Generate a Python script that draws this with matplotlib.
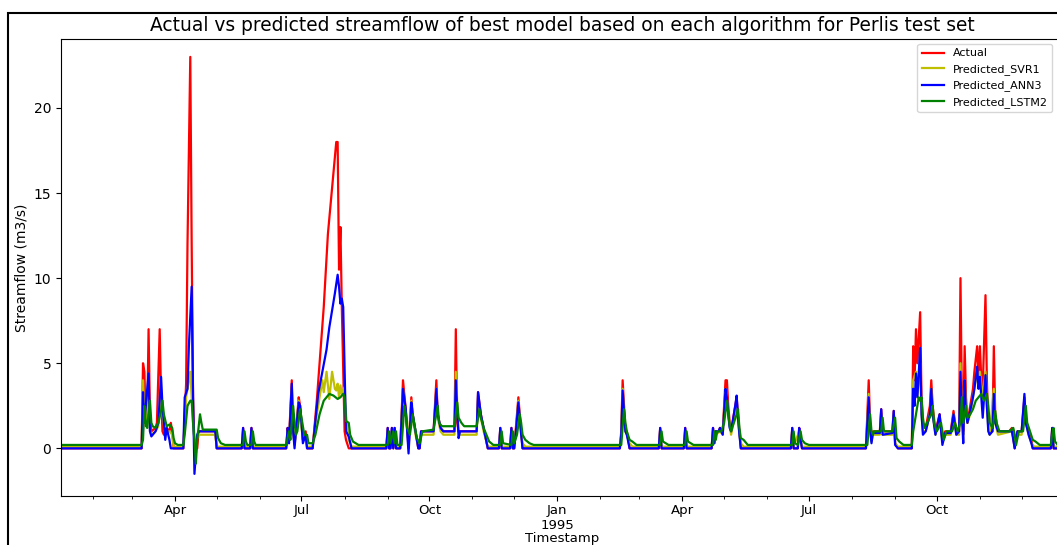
import numpy as np
import pandas as pd
import matplotlib
matplotlib.use('Agg')
import matplotlib.pyplot as plt
import matplotlib.dates as mdates
from matplotlib.patches import Rectangle

# daily streamflow, Perlis test set; day numbers counted from 1994-01-01
start = pd.Timestamp('1994-01-01')

act_day = [8, 66, 67, 68, 69, 70, 71, 72, 73, 76, 77, 79, 80, 81, 82, 84, 86, 87, 88, 89,
           96, 98, 99, 101, 102, 103, 104, 106, 107, 119, 120,
           138, 139, 140, 144, 145, 146,
           170, 171, 172, 174, 175, 176, 177, 179, 180, 182, 184, 185, 189,
           192, 197, 200, 204, 206, 207, 208, 209, 210, 212, 213, 215,
           242, 243, 244, 245, 246, 247, 248, 249, 252, 254, 256, 258, 260, 261, 263, 265, 266,
           267, 276, 278, 279, 281, 283, 291, 292, 293, 294, 307, 308, 310, 312, 315,
           323, 324, 325, 331, 332, 333, 334, 335, 337, 338, 339, 340,
           410, 411, 412, 413, 414, 415, 417,
           438, 439, 440, 456, 457, 458,
           476, 477, 478, 479, 481, 482, 484, 486, 487, 488, 489, 490, 491, 493, 494, 495, 496, 497,
           533, 534, 535, 538, 539, 540, 541,
           587, 589, 590, 591, 592, 597, 598, 599, 606, 607, 608, 610, 620, 621, 622, 623, 624,
           626, 627, 628, 630, 633, 634, 635, 637, 640, 642, 644, 648, 650, 652, 654, 655, 656,
           657, 658, 659, 660, 662, 664, 665, 667, 668, 669, 670, 671, 673, 674, 675, 676, 678,
           679, 680, 682, 690, 692, 694, 696, 699, 701, 702, 704, 706, 707, 720, 721, 722, 729]
act_val = [0, 0, 5.0, 4.5, 1.3, 1.5, 7.0, 2.0, 1.0, 1.2, 1.5, 7.0, 3.0, 1.0, 0.8, 1.2, 1.0, 1.5, 1.0, 0,
           0, 3.8, 12.0, 23.0, 12.0, 3.0, 0, 0, 1.0, 1.0, 0,
           0, 1.2, 0, 0, 1.2, 0,
           0, 1.2, 0.5, 4.0, 1.0, 0.3, 1.0, 3.0, 2.5, 0.5, 1.0, 0, 0,
           2.8, 8.3, 12.6, 16.2, 18.0, 18.0, 10.5, 13.0, 8.3, 1.0, 0.5, 0,
           0, 1.2, 0, 0, 1.2, 0, 1.2, 0, 0, 4.0, 2.3, 0, 3.0, 2.0, 1.0, 0, 0,
           1.0, 1.0, 4.0, 2.0, 1.2, 1.0, 1.0, 7.0, 1.5, 1.0, 1.0, 3.3, 2.0, 1.2, 0,
           0, 1.2, 0, 0, 1.2, 0, 0, 1.0, 3.0, 2.0, 1.0, 0,
           0, 1.0, 4.0, 2.5, 1.0, 1.0, 0,
           0, 1.2, 0, 0, 1.2, 0,
           0, 1.2, 0.5, 1.0, 1.0, 1.2, 1.0, 4.0, 4.0, 2.5, 1.5, 1.0, 1.5, 2.5, 3.0, 2.0, 1.0, 0,
           0, 1.2, 0, 0, 1.2, 0.5, 0,
           0, 4.0, 1.5, 0.5, 1.0, 1.0, 2.3, 1.0, 1.0, 2.2, 0.3, 0, 0, 6.0, 4.0, 7.0, 5.0,
           8.0, 3.0, 1.5, 1.2, 2.5, 4.0, 2.5, 1.0, 2.0, 0.5, 1.0, 1.0, 2.2, 1.0, 1.0, 10.0, 3.0,
           1.0, 6.0, 3.0, 1.5, 2.5, 3.5, 4.5, 6.0, 4.0, 6.0, 4.0, 3.5, 9.0, 4.0, 1.5, 1.0, 1.0,
           6.0, 2.0, 1.0, 1.0, 1.2, 0, 1.0, 1.0, 3.0, 1.5, 1.0, 0.5, 0, 0, 1.2, 0, 0]

svr_day = [8, 66, 67, 68, 69, 71, 72, 73, 76, 78, 80, 81, 83, 84, 86, 88, 89,
           96, 98, 99, 101, 102, 103, 104, 106, 107, 119, 120,
           138, 139, 140, 144, 145, 146,
           170, 171, 172, 174, 175, 176, 177, 179, 180, 182, 184, 185, 189,
           191, 194, 196, 197, 199, 201, 203, 205, 206, 207, 208, 209, 210, 212, 213, 215, 217,
           242, 243, 244, 246, 247, 248, 249, 252, 254, 256, 258, 260, 261, 263, 265,
           267, 276, 278, 279, 281, 283, 291, 292, 294, 295, 307, 308, 310, 312, 315,
           323, 324, 325, 331, 332, 333, 335, 337, 338, 339, 340, 342,
           410, 411, 412, 413, 414, 415, 417, 419,
           438, 439, 440, 456, 457, 458,
           476, 477, 478, 479, 482, 484, 486, 487, 488, 490, 491, 494, 495, 496, 497, 499,
           533, 534, 535, 539, 540, 541,
           587, 589, 590, 591, 592, 597, 598, 599, 606, 607, 608, 610, 620, 621, 623, 624,
           626, 627, 628, 630, 633, 634, 635, 637, 640, 642, 644, 648, 650, 652, 654, 655, 656,
           657, 658, 659, 660, 662, 664, 665, 667, 668, 669, 671, 673, 674, 675, 676,
           679, 680, 682, 692, 694, 696, 699, 701, 702, 704, 706, 708, 720, 721, 722, 729]
svr_val = [0.1, 0.1, 4.0, 2.0, 1.5, 3.0, 1.0, 0.8, 1.0, 1.3, 3.5, 2.0, 0.8, 1.0, 1.0, 0.8, 0.1,
           0.1, 3.0, 3.5, 4.5, 3.0, 1.5, 0.3, 0.6, 0.8, 0.8, 0.1,
           0.1, 1.0, 0.1, 0.1, 1.0, 0.1,
           0.1, 1.0, 0.3, 3.5, 1.0, 0.2, 0.8, 2.8, 2.0, 0.5, 0.8, 0.1, 0.1,
           1.5, 3.0, 4.0, 3.3, 4.5, 2.9, 4.5, 3.5, 3.4, 3.8, 3.0, 3.7, 3.2, 3.6, 2.0, 0.5, 0.1,
           0.1, 1.0, 0.1, 1.0, 0.1, 1.0, 0.1, 0.1, 3.5, 2.0, 0.3, 2.8, 1.8, 0.8, 0.1,
           0.8, 0.8, 3.5, 1.8, 1.0, 0.8, 0.8, 4.5, 1.0, 0.8, 0.8, 3.0, 1.8, 1.0, 0.1,
           0.1, 1.0, 0.1, 0.1, 1.0, 0.1, 0.8, 2.8, 1.8, 0.8, 0.3, 0.1,
           0.1, 0.8, 3.5, 2.0, 1.0, 0.8, 0.3, 0.1,
           0.1, 1.0, 0.1, 0.1, 1.0, 0.1,
           0.1, 1.0, 0.3, 0.8, 1.0, 0.8, 3.5, 3.0, 2.0, 0.8, 1.2, 2.8, 1.6, 0.8, 0.3, 0.1,
           0.1, 1.0, 0.1, 1.0, 0.4, 0.1,
           0.1, 3.2, 1.0, 0.4, 0.8, 0.8, 2.0, 0.8, 0.8, 2.0, 0.3, 0.1, 0.1, 4.0, 4.5, 3.0,
           5.0, 2.0, 1.0, 1.0, 2.0, 3.5, 2.0, 0.8, 1.8, 0.4, 0.8, 0.8, 2.0, 0.8, 0.8, 5.0, 2.0,
           0.8, 4.0, 2.5, 1.5, 2.0, 3.0, 3.5, 4.5, 3.5, 4.5, 3.0, 4.5, 2.5, 1.2, 0.8,
           3.5, 1.5, 0.8, 1.0, 0.2, 0.8, 0.8, 2.8, 1.5, 0.8, 0.3, 0.1, 0.1, 1.0, 0.1, 0.1]

ann_day = [8, 66, 67, 68, 69, 71, 72, 73, 76, 78, 80, 81, 83, 84, 86, 87,
           96, 97, 99, 100, 102, 103, 104, 106, 107, 119, 120,
           138, 139, 140, 144, 145, 146,
           170, 171, 172, 174, 175, 176, 177, 179, 180, 181, 182, 184, 185, 189,
           193, 199, 201, 205, 207, 208, 209, 210, 211, 213, 215, 217,
           242, 243, 244, 245, 246, 247, 248, 249, 252, 254, 256, 258, 260, 261, 263, 265, 266,
           267, 276, 278, 279, 281, 283, 291, 292, 294, 295, 307, 308, 310, 312, 315,
           323, 324, 325, 331, 332, 333, 334, 335, 337, 338, 339, 340,
           410, 411, 412, 413, 414, 415, 417,
           438, 439, 440, 456, 457, 458,
           476, 477, 478, 479, 481, 482, 484, 486, 487, 488, 489, 490, 491, 493, 494, 495, 496, 497,
           533, 534, 535, 538, 539, 540, 541,
           587, 589, 590, 591, 592, 597, 598, 599, 606, 607, 608, 610, 620, 621, 622, 623, 624,
           626, 627, 628, 630, 633, 634, 635, 637, 640, 642, 644, 648, 650, 652, 654, 655, 656,
           657, 658, 659, 660, 662, 664, 665, 667, 668, 669, 671, 673, 674, 675, 676, 678,
           679, 680, 682, 690, 692, 694, 696, 699, 701, 702, 704, 706, 707, 720, 721, 722, 729]
ann_val = [0, 0, 3.3, 1.5, 2.5, 4.4, 1.0, 0.7, 1.0, 1.5, 4.2, 2.5, 0.5, 1.2, 0.5, 0,
           0, 3.0, 3.5, 6.0, 9.5, 3.0, -1.5, 0.8, 1.0, 1.0, 0,
           0, 1.2, 0, 0, 1.2, 0,
           0, 1.2, 0.3, 3.8, 1.0, 0, 1.0, 2.7, 2.5, 1.5, 0.3, 0.8, 0, 0,
           3.2, 5.8, 7.1, 9.1, 10.2, 9.5, 8.5, 8.8, 8.3, 1.0, 0.7, 0,
           0, 1.2, 0, 0, 1.2, 0, 1.2, 0, 0, 3.5, 2.3, -0.3, 2.7, 2.0, 1.0, 0, 0,
           1.0, 1.0, 3.5, 2.0, 1.2, 1.0, 1.0, 4.0, 0.6, 1.0, 1.0, 3.3, 2.0, 1.2, 0,
           0, 1.2, 0, 0, 1.2, 0, 0, 0.8, 2.7, 1.8, 0.8, 0,
           0, 0.8, 3.4, 2.2, 1.0, 0.8, 0,
           0, 1.2, 0, 0, 1.2, 0,
           0, 1.2, 0.3, 1.0, 1.0, 1.2, 0.8, 3.5, 3.0, 2.0, 1.2, 1.0, 1.5, 2.5, 3.1, 1.8, 0.8, 0,
           0, 1.2, 0, 0, 1.2, 0.5, 0,
           0, 3.0, 1.2, 0.3, 0.9, 0.9, 2.3, 0.8, 0.9, 2.2, 0.2, 0, 0, 3.5, 2.5, 4.4, 3.0,
           5.9, 2.0, 0.8, 1.0, 2.0, 3.5, 2.0, 0.8, 2.0, 0.2, 0.9, 0.9, 2.0, 0.8, 1.0, 4.5, 2.0,
           0.3, 4.0, 2.0, 1.5, 2.2, 3.0, 3.5, 4.8, 3.5, 4.2, 1.8, 4.3, 2.5, 1.0, 0.8, 1.0,
           3.2, 1.5, 1.0, 1.0, 1.0, 0, 1.0, 1.0, 3.2, 1.5, 0.8, 0.3, 0, 0, 1.2, 0, 0]

lstm_day = [8, 66, 67, 68, 69, 70, 71, 72, 73, 74, 76, 78, 80, 81, 82, 84, 86, 88, 89, 90, 92,
            96, 97, 99, 101, 102, 103, 104, 105, 106, 108, 109, 110, 120, 121, 123, 126,
            139, 140, 141, 142, 145, 146, 147, 148,
            170, 172, 173, 175, 176, 177, 178, 180, 181, 183, 185, 186, 189,
            191, 194, 197, 201, 204, 207, 209, 211, 212, 213, 215, 216, 218, 222,
            243, 244, 245, 247, 248, 249, 250, 253, 255, 256, 257, 259, 261, 262, 264, 266,
            268, 276, 279, 280, 282, 291, 293, 294, 296, 298, 307, 309, 310, 312, 314, 316, 319,
            324, 325, 326, 332, 333, 334, 336, 338, 339, 340, 342, 345, 348,
            411, 413, 414, 415, 417, 419, 422,
            439, 440, 441, 443, 445, 457, 458, 459, 461, 463,
            477, 478, 479, 480, 483, 485, 487, 488, 489, 490, 492, 494, 495, 496, 497, 499, 502,
            534, 535, 536, 538, 540, 541, 543, 546,
            588, 590, 591, 592, 593, 598, 599, 600, 606, 608, 609, 611, 614, 620, 621, 623, 625,
            626, 627, 628, 629, 631, 634, 635, 636, 638, 641, 643, 645, 649, 651, 653, 655, 656,
            657, 659, 660, 662, 664, 666, 668, 670, 672, 674, 675, 676, 678, 680, 681, 683, 690,
            693, 694, 695, 697, 700, 702, 703, 705, 707, 709, 712, 720, 721, 722, 723, 725, 729]
lstm_val = [0.2, 0.2, 0.5, 2.5, 1.5, 1.2, 2.0, 2.8, 1.5, 1.3, 1.2, 1.5, 2.2, 2.8, 2.0, 1.3, 1.4, 1.2, 0.6, 0.3, 0.2,
            0.2, 0.8, 2.5, 2.8, 2.8, 1.5, 0.5, -0.9, 0.5, 2.0, 1.5, 1.1, 1.1, 0.6, 0.3, 0.2,
            0.2, 1.0, 0.4, 0.2, 0.2, 1.0, 0.4, 0.2,
            0.2, 1.0, 0.5, 2.5, 1.5, 0.8, 1.0, 2.3, 1.8, 0.8, 0.8, 0.3, 0.3,
            0.8, 2.0, 2.8, 3.2, 3.1, 2.9, 3.0, 3.2, 3.0, 1.6, 1.5, 0.8, 0.4, 0.2,
            0.2, 1.0, 0.3, 1.0, 0.3, 1.0, 0.2, 0.2, 2.5, 2.0, 1.2, 0.8, 2.0, 1.5, 0.6, 0.3,
            1.0, 1.1, 2.5, 1.5, 1.3, 1.3, 2.7, 1.8, 1.5, 1.3, 1.3, 2.3, 1.8, 1.2, 0.8, 0.4, 0.2,
            0.2, 1.0, 0.3, 0.2, 1.0, 0.3, 0.8, 2.0, 1.5, 0.8, 0.5, 0.3, 0.2,
            0.2, 2.3, 1.5, 1.0, 0.5, 0.4, 0.2,
            0.2, 1.0, 0.4, 0.3, 0.2, 0.2, 1.0, 0.4, 0.3, 0.2,
            0.2, 1.0, 0.5, 1.0, 1.0, 1.5, 2.8, 2.0, 1.3, 1.0, 1.5, 2.0, 2.3, 1.2, 0.6, 0.5, 0.2,
            0.2, 1.0, 0.3, 0.2, 1.0, 0.5, 0.3, 0.2,
            0.2, 2.0, 1.0, 0.8, 1.0, 1.0, 1.8, 1.0, 1.0, 1.8, 0.6, 0.4, 0.2, 0.2, 1.0, 2.0, 3.0,
            2.8, 3.0, 1.8, 1.2, 1.5, 2.0, 2.5, 1.5, 1.0, 1.5, 0.5, 1.0, 1.0, 1.5, 1.0, 1.5, 3.0,
            1.5, 2.5, 1.8, 2.0, 2.3, 2.8, 3.0, 3.2, 2.8, 3.2, 2.5, 1.5, 1.2, 2.2, 1.5, 1.0, 1.0,
            1.2, 0.8, 0.2, 1.0, 1.0, 2.5, 1.5, 1.0, 0.5, 0.4, 0.2, 0.2, 0.8, 1.2, 0.4, 0.2, 0.2]

series = [('Actual', act_day, act_val, 'r'),
          ('Predicted_SVR1', svr_day, svr_val, 'y'),
          ('Predicted_ANN3', ann_day, ann_val, 'b'),
          ('Predicted_LSTM2', lstm_day, lstm_val, 'g')]


def to_dates(days):
    return start + pd.to_timedelta(days, unit='D')


def month_label(x, pos=None):
    d = mdates.num2date(x)
    if d.month == 1:
        return d.strftime('%b\n%Y')
    return d.strftime('%b')


fig = plt.figure(figsize=(10.57, 5.45), dpi=100)
ax = fig.add_axes([0.0577, 0.0899, 0.9483, 0.8385])

for name, days, vals, c in series:
    ax.plot(to_dates(days), vals, color=c, lw=1.6, label=name)

ax.set_xlim(to_dates([8])[0], to_dates([729])[0])
ax.set_ylim(-2.8, 24.05)
ax.xaxis.set_major_locator(mdates.MonthLocator(bymonth=[1, 4, 7, 10]))
ax.xaxis.set_minor_locator(mdates.MonthLocator())
ax.xaxis.set_major_formatter(plt.FuncFormatter(month_label))
ax.tick_params(axis='y', labelsize=10)
ax.tick_params(axis='x', labelsize=9.5, pad=2)
ax.set_xlabel('Timestamp', fontsize=9.5, labelpad=0.5)
ax.set_ylabel('Streamflow (m3/s)', fontsize=10)
ax.set_title('Actual vs predicted streamflow of best model based on each algorithm for Perlis test set',
             fontsize=13.4)
ax.legend(loc='upper right', bbox_to_anchor=(0.989, 0.989), borderaxespad=0, fontsize=8)

# outer frame around the figure
fig.add_artist(Rectangle((8 / 1057, -0.5), 2, 0.5 + 1 - 13 / 545, transform=fig.transFigure,
                         fill=False, ec='black', lw=1.5, clip_on=False))

fig.savefig('out.png', dpi=100)
